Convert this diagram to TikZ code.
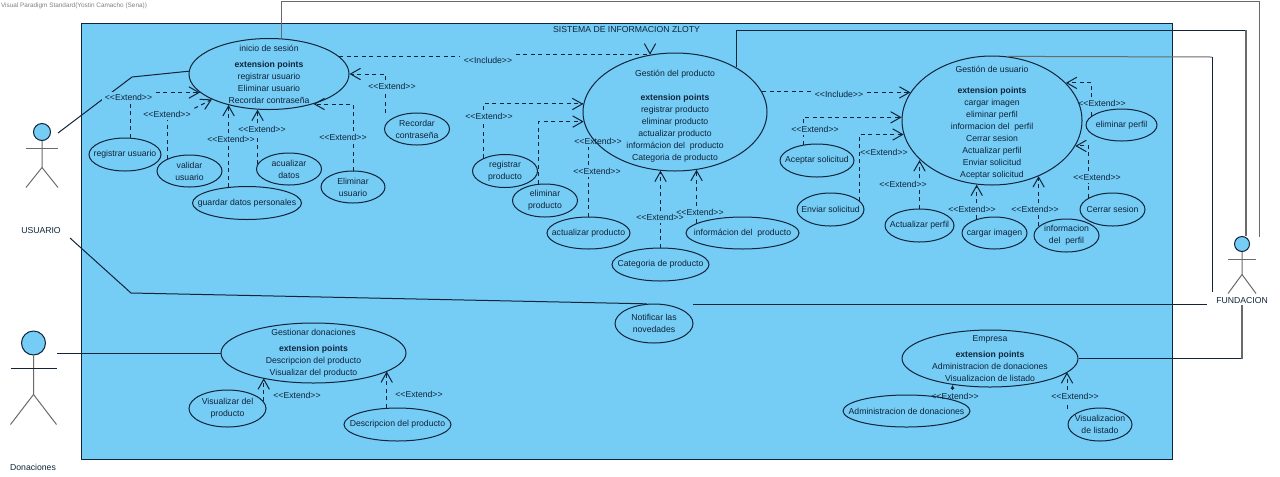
\documentclass[tikz,border=0pt]{standalone}
\usepackage{fontspec}
\setmainfont{Liberation Sans}[Ligatures=TeXOff]
\usetikzlibrary{arrows.meta,shapes.geometric}
\definecolor{sysblue}{HTML}{75CCF5}
\definecolor{linecol}{HTML}{10243A}
\definecolor{greyline}{HTML}{6A6A6A}

\begin{document}
\begin{tikzpicture}[x=0.75pt,y=-0.75pt,line width=0.75pt,
		uc/.style 2 args={ellipse,draw=linecol,inner sep=0pt,minimum width=#1*0.75pt,minimum height=#2*0.75pt},
		uctext/.style={font=\fontsize{6.5}{9}\selectfont,align=center,inner sep=0pt,text=linecol},
		tagtext/.style={font=\fontsize{6.5}{9}\selectfont,inner xsep=2.5pt,inner ysep=1.5pt,text=linecol},
		actorhead/.style={circle,draw=linecol,fill=sysblue,inner sep=0pt},
		actorline/.style={draw=greyline},
		assoc/.style={draw=linecol},
		dashline/.style={draw=linecol,dash pattern=on 3pt off 2.6pt},
		dep/.style={dashline,-{Straight Barb[length=7.5pt,width=8.5pt]}}]
		\useasboundingbox (0,0) rectangle (1280,476);

		% system box
		\node[draw=linecol,fill=sysblue,minimum width=818.25pt,minimum height=327pt,inner sep=0pt] (sistema) at (626.5,241) {};
		\node[uctext] (sistemaT) at (626.5,29.5) {SISTEMA DE INFORMACION ZLOTY};
		\node[uctext,font=\fontsize{4.8}{6}\selectfont,text=gray] (paradigm) at (74,6) {Visual Paradigm Standard(Yostin Camacho (Sena))};

		% use cases
		\node[uc={160}{71},label={[uctext]center:inicio de sesión\\[3pt]\textbf{extension points}\\registrar usuario\\Eliminar usuario\\Recordar contraseña}] (inicio) at (269,74) {};
		\node[uc={72}{33},label={[uctext]center:registrar usuario}] (regu) at (125,154.5) {};
		\node[uc={65}{32},label={[uctext]center:validar\\usuario}] (valu) at (189.5,171) {};
		\node[uc={65}{32},label={[uctext]center:acualizar\\datos}] (acu) at (289,169) {};
		\node[uc={109}{33},label={[uctext]center:guardar datos personales}] (gua) at (247,203) {};
		\node[uc={64}{32},label={[uctext]center:Eliminar\\usuario}] (eliu) at (353,187) {};
		\node[uc={65}{32},label={[uctext]center:Recordar\\contraseña}] (recu) at (417,129) {};

		\node[uc={184}{118},label={[uctext,yshift=-3.4pt]center:Gestión del producto\\[9pt]\textbf{extension points}\\registrar producto\\eliminar producto\\actualizar producto\\informácion del\ \ producto\\Categoria de producto}] (gest) at (675,112) {};
		\node[uc={65}{33},label={[uctext]center:registrar\\producto}] (regp) at (505,171) {};
		\node[uc={65}{33},label={[uctext]center:eliminar\\producto}] (elip) at (545,200.5) {};
		\node[uc={83}{32},label={[uctext]center:actualizar producto}] (actp) at (588.5,233) {};
		\node[uc={113}{32},label={[uctext]center:informácion del\ \ producto}] (infp) at (742.5,233) {};
		\node[uc={97}{33},label={[uctext]center:Categoria de producto}] (catp) at (660.5,264.5) {};

		\node[uc={180}{129},label={[uctext,yshift=-1.5pt]center:Gestión de usuario\\[6.7pt]\textbf{extension points}\\cargar imagen\\eliminar perfil\\informacion del\ \ perfil\\Cerrar sesion\\Actualizar perfil\\Enviar solicitud\\Aceptar solicitud}] (gusr) at (992,120.5) {};
		\node[uc={74}{33},label={[uctext]center:Aceptar solicitud}] (aces) at (817,160.5) {};
		\node[uc={67}{33},label={[uctext]center:Enviar solicitud}] (envs) at (830.5,209.5) {};
		\node[uc={71}{32},label={[uctext]center:eliminar perfil}] (elpf) at (1121.5,125) {};
		\node[uc={65}{33},label={[uctext]center:Cerrar sesion}] (cers) at (1112.5,209.5) {};
		\node[uc={69}{33},label={[uctext]center:Actualizar perfil}] (acpf) at (919.5,225.5) {};
		\node[uc={65}{32},label={[uctext]center:cargar imagen}] (cima) at (994.5,233) {};
		\node[uc={65}{33},label={[uctext]center:informacion\\del\ \ perfil}] (inpf) at (1066.5,235.5) {};

		\node[uc={78}{39},label={[uctext]center:Notificar las\\novedades}] (notif) at (654,323.5) {};

		\node[uc={185}{60},label={[uctext]center:Gestionar donaciones\\[3pt]\textbf{extension points}\\Descripcion del producto\\Visualizar del producto}] (gdon) at (313.5,353) {};
		\node[uc={77}{37},label={[uctext]center:Visualizar del\\producto}] (visp) at (227.5,408.5) {};
		\node[uc={107}{33},label={[uctext]center:Descripcion del producto}] (desp) at (397.5,424.5) {};

		\node[uc={176}{57},label={[uctext]center:Empresa\\[3pt]\textbf{extension points}\\Administracion de donaciones\\Visualizacion de listado}] (emp) at (990,358.5) {};
		\node[uc={127}{32},label={[uctext]center:Administracion de donaciones}] (admd) at (906.5,411) {};
		\node[uc={64}{33},label={[uctext]center:Visualizacion\\de listado}] (visl) at (1100,424.5) {};

		% actors
		\node[actorhead,minimum size=12.75pt] (uhead) at (42,132) {};
		\draw[actorline] (uhead.south) -- ++(0,26.5) coordinate (ubody) -- ++(-16,20);
		\draw[actorline] (ubody) -- ++(16,20);
		\draw[actorline] (uhead.south) ++(-16,7.5) -- ++(32,0);
		\node[uctext] (usuario) at (41,231) {USUARIO};

		\node[actorhead,minimum size=18pt] (dhead) at (33.5,343) {};
		\draw[actorline] (dhead.south) -- ++(0,39) coordinate (dbody) -- ++(-23,30);
		\draw[actorline] (dbody) -- ++(23,30);
		\draw[assoc] (dhead.south) ++(-23,13) -- ++(46,0);
		\node[uctext] (donaciones) at (33,467) {Donaciones};

		\node[actorhead,minimum size=11.25pt] (fhead) at (1242,244) {};
		\draw[actorline] (fhead.south) -- ++(0,22.5) coordinate (fbody) -- ++(-14,19);
		\draw[actorline] (fbody) -- ++(14,19);
		\draw[actorline] (fhead.south) ++(-14,7.5) -- ++(28,0);
		\node[uctext] (fundacion) at (1242,301) {FUNDACION};

		% associations
		\coordinate (uarm) at (58,133);
		\coordinate (ubend) at (132,77);
		\coordinate (ustart) at (70,238);
		\coordinate (ulow) at (131,293);
		\coordinate (nright) at (693,304);
		\coordinate (fleft) at (1207,304);
		\coordinate (darm) at (57,353);
		\coordinate (ctop) at (1259,1);
		\coordinate (cend) at (1259,237);
		\coordinate (cmid) at (1246,30);
		\coordinate (clow) at (1212,57);
		\coordinate (clend) at (1212,292);
		\draw[assoc] (uarm) -- (ubend) -- (inicio.178);
		\draw[assoc] (ustart) -- (ulow) -- (notif.110);
		\draw[assoc] (nright) -- (fleft);
		\draw[assoc] (darm) -- (gdon.west);
		\draw[actorline] (inicio.71) |- (ctop) -- (cend);
		\draw[assoc] (gest.36) |- (cmid);
		\draw[actorline,line width=1.2pt] (cmid) -- (cmid |- fhead.north);
		\draw[actorline] (gusr.77) -- (clow);
		\draw[assoc] (clow) -- (clend);
		\draw[assoc] (emp.east) -- (emp.east -| fundacion.south);
		\draw[actorline,line width=1.2pt] (emp.east -| fundacion.south) -- (fundacion.south);

		% stereotype labels
		\node[tagtext,fill=sysblue] (lreg) at (128.5,97) {<<Extend>>};
		\node[tagtext] (lval) at (167,114) {<<Extend>>};
		\node[tagtext] (lgua) at (231,139) {<<Extend>>};
		\node[tagtext] (lacu) at (262,129) {<<Extend>>};
		\node[tagtext] (leli) at (343,137) {<<Extend>>};
		\node[tagtext] (lrec) at (392,86) {<<Extend>>};
		\node[tagtext] (linc) at (488,60) {<<Include>>};
		\node[tagtext] (lrp) at (489,116) {<<Extend>>};
		\node[tagtext] (lap) at (598,141) {<<Extend>>};
		\node[tagtext] (lapb) at (597,171) {<<Extend>>};
		\node[tagtext] (lcat) at (660,217) {<<Extend>>};
		\node[tagtext] (linf) at (700,212) {<<Extend>>};
		\node[tagtext] (lincb) at (839,94) {<<Include>>};
		\node[tagtext] (lacs) at (815,129) {<<Extend>>};
		\node[tagtext] (lenv) at (884,152) {<<Extend>>};
		\node[tagtext] (lapf) at (903,184) {<<Extend>>};
		\node[tagtext] (lcim) at (972,209) {<<Extend>>};
		\node[tagtext] (lipf) at (1035,209) {<<Extend>>};
		\node[tagtext] (lcs) at (1097,177) {<<Extend>>};
		\node[tagtext] (lepf) at (1102,103) {<<Extend>>};
		\node[tagtext] (lvp) at (297,395) {<<Extend>>};
		\node[tagtext] (ldp) at (419,394) {<<Extend>>};
		\node[tagtext] (lad) at (955,396) {<<Extend>>};
		\node[tagtext] (lvl) at (1075,396) {<<Extend>>};

		% extend and include arrows
		\coordinate (rectop) at (385,113);
		\coordinate (gestin) at (650,54);
		\coordinate (vistop) at (1067,409);

		\draw[dashline] (regu.73) -- (regu.73 |- lreg.south);
		\draw[dep] (lreg.east |- inicio.195) -- (inicio.195);
		\draw[dashline] (valu.151) -- (valu.151 |- lval.south);
		\draw[dep] (lval.north east) -- (inicio.204);
		\draw[dashline] (gua.139) -- (gua.139 |- lgua.south);
		\draw[dep] (gua.139 |- lgua.north) -- (gua.139 |- inicio.217);
		\draw[dashline] (acu.171) -- (acu.171 |- lacu.south);
		\draw[dep] (acu.171 |- lacu.north) -- (acu.171 |- inicio.253);
		\draw[dashline] (eliu.north) -- (eliu.north |- leli.south);
		\draw[dep] (eliu.north |- leli.north) |- (inicio.-34);
		\draw[dashline] (rectop) -- (rectop |- lrec.south);
		\draw[dep] (rectop |- lrec.north) |- (inicio.east);
		\draw[dashline] (inicio.14) -- (inicio.14 -| linc.west);
		\draw[dep] (linc.east |- gestin) -- (gestin) -- (gestin |- gest.113);

		\draw[dashline] (regp.149) -- (regp.149 |- lrp.south);
		\draw[dep] (regp.149 |- lrp.north) |- (gest.175);
		\draw[dep] (elip.110) |- (gest.186);
		\draw[dashline] (actp.north) -- (actp.north |- lapb.south);
		\draw[dashline] (actp.north |- lapb.north) -- (actp.north |- lap.south);
		\draw[dashline] (catp.north) -- (catp.north |- lcat.south);
		\draw[dep] (catp.north |- lcat.north) -- (catp.north |- gest.255);
		\draw[dashline] (infp.168) -- (infp.168 |- linf.south);
		\draw[dep] (infp.168 |- linf.north) -- (infp.168 |- gest.-69);
		\draw[dashline] (gest.13) -- (gest.13 -| lincb.west);
		\draw[dep] (lincb.east |- gusr.161) -- (gusr.161);

		\draw[dashline] (aces.130) -- (aces.130 |- lacs.south);
		\draw[dep] (aces.130 |- lacs.north) |- (gusr.178);
		\draw[dep] (envs.17) |- (gusr.189);
		\draw[dashline] (acpf.north) -- (acpf.north |- lapf.south);
		\draw[dep] (acpf.north |- lapf.north) -- (acpf.north |- gusr.209);
		\draw[dashline] (cima.142) -- (cima.142 |- lcim.south);
		\draw[dep] (cima.142 |- lcim.north) -- (cima.142 |- gusr.257);
		\draw[dashline] (inpf.162) -- (inpf.162 |- lipf.south);
		\draw[dep] (inpf.162 |- lipf.north) -- (inpf.162 |- gusr.-50);
		\draw[dashline] (cers.154) -- (cers.154 |- lcs.south);
		\draw[dep] (cers.154 |- lcs.north) |- (gusr.-17);
		\draw[dashline] (elpf.163) -- (elpf.163 |- lepf.south);
		\draw[dep] (elpf.163 |- lepf.north) |- (gusr.27);

		\draw[dep] (visp.11) -- (visp.11 |- gdon.206);
		\draw[dep] (desp.123) -- (desp.123 |- gdon.-14);

		\draw[linecol,-{Latex[length=3pt,width=3pt]}] (emp.215 |- lad.north) -- (emp.215);
		\draw[dashline] (vistop) -- (vistop |- lvl.south);
		\draw[dep] (vistop |- lvl.north) -- (vistop |- emp.-10);
		\end{tikzpicture}
\end{document}
